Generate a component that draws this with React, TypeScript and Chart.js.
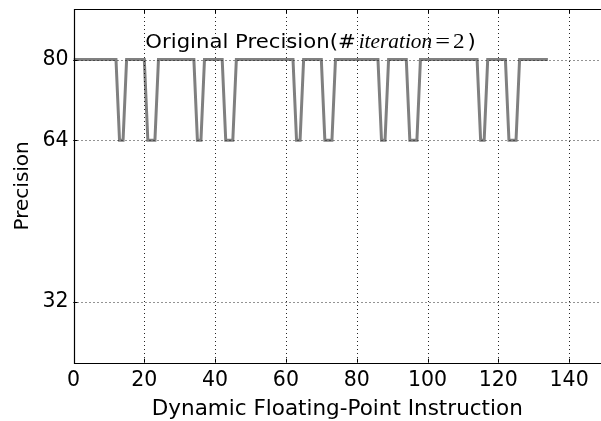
import React, { useEffect, useRef } from "react";
import { Chart, registerables } from "chart.js";

Chart.register(...registerables);

// ---- data ----
const instructionIndex = [
  0, 12, 13, 14, 15, 20, 21, 23, 24, 34, 35, 36, 37, 42, 43, 45, 46, 62, 63, 64, 65,
  70, 71, 73, 74, 86, 87, 88, 89, 94, 95, 97, 98, 114, 115, 116, 117, 122, 123, 125, 126, 134,
];
const precisionBits = [
  80, 80, 64, 64, 80, 80, 64, 64, 80, 80, 64, 64, 80, 80, 64, 64, 80, 80, 64, 64, 80,
  80, 64, 64, 80, 80, 64, 64, 80, 80, 64, 64, 80, 80, 64, 64, 80, 80, 64, 64, 80, 80,
];
const xTicks = [0, 20, 40, 60, 80, 100, 120, 140];
const yTicks = [32, 64, 80];
const xLabel = "Dynamic Floating-Point Instruction";
const yLabel = "Precision";
const annotationParts = ["Original Precision(#", "iteration", "=", "2", ")"];
const annotationAt = { x: 20.3, y: 82.3 };

const SANS = '"DejaVu Sans"';
const SERIF = '"Liberation Serif"';

const framePlugin = {
  id: "frame",
  afterDatasetsDraw(chart: any) {
    const { ctx, chartArea } = chart;
    const { left, top, bottom } = chartArea;
    const right = chart.width + 10;
    const xs = chart.scales.x;
    const ys = chart.scales.y;
    const snap = (v: number) => Math.round(v) + 0.5;

    ctx.save();
    // dotted grid above the line
    ctx.strokeStyle = "rgba(0,0,0,0.85)";
    ctx.lineWidth = 1;
    ctx.setLineDash([1, 3]);
    xTicks.forEach((v) => {
      if (v === 0) return;
      const px = snap(xs.getPixelForValue(v));
      ctx.beginPath();
      ctx.moveTo(px, top);
      ctx.lineTo(px, bottom);
      ctx.stroke();
    });
    yTicks.forEach((v) => {
      const py = snap(ys.getPixelForValue(v));
      ctx.beginPath();
      ctx.moveTo(left, py);
      ctx.lineTo(right, py);
      ctx.stroke();
    });
    ctx.setLineDash([]);

    // spines
    ctx.strokeStyle = "#000";
    ctx.lineWidth = 1.2;
    ctx.beginPath();
    ctx.moveTo(right, snap(top));
    ctx.lineTo(snap(left), snap(top));
    ctx.lineTo(snap(left), snap(bottom));
    ctx.lineTo(right, snap(bottom));
    ctx.stroke();

    // inward ticks
    ctx.lineWidth = 1;
    ctx.beginPath();
    xTicks.forEach((v) => {
      const px = snap(xs.getPixelForValue(v));
      ctx.moveTo(px, bottom);
      ctx.lineTo(px, bottom - 4);
      ctx.moveTo(px, top);
      ctx.lineTo(px, top + 4);
    });
    yTicks.forEach((v) => {
      const py = snap(ys.getPixelForValue(v));
      ctx.moveTo(left, py);
      ctx.lineTo(left + 4, py);
    });
    ctx.stroke();

    // annotation text
    let tx = xs.getPixelForValue(annotationAt.x);
    const ty = ys.getPixelForValue(annotationAt.y);
    ctx.fillStyle = "#000";
    ctx.textBaseline = "alphabetic";
    ctx.textAlign = "left";
    const fonts = [
      `20px ${SANS}`,
      `italic 22px ${SERIF}`,
      `21px ${SERIF}`,
      `21px ${SERIF}`,
      `20px ${SANS}`,
    ];
    const stretch = [1.06, 0.97, 1.25, 1.1, 1.06];
    const gapsBefore = [0, 3, 3, 3, 3];
    annotationParts.forEach((t, i) => {
      ctx.font = fonts[i];
      tx += gapsBefore[i];
      ctx.save();
      ctx.translate(tx, ty);
      ctx.scale(stretch[i], 1);
      ctx.fillText(t, 0, 0);
      ctx.restore();
      tx += ctx.measureText(t).width * stretch[i];
    });
    ctx.restore();
  },
};

export default function App() {
  const ref = useRef<HTMLCanvasElement | null>(null);
  useEffect(() => {
    if (!ref.current) return;
    const chart = new Chart(ref.current, {
      type: "line",
      data: {
        datasets: [
          {
            data: instructionIndex.map((x, i) => ({ x, y: precisionBits[i] })),
            borderColor: "#808080",
            borderWidth: 3,
            pointRadius: 0,
            tension: 0,
            fill: false,
          },
        ],
      },
      options: {
        animation: false,
        responsive: false,
        devicePixelRatio: 1,
        layout: { padding: { top: 9, left: 0, right: 0, bottom: 0 } },
        plugins: { legend: { display: false }, tooltip: { enabled: false } },
        scales: {
          x: {
            type: "linear",
            min: 0,
            max: 149,
            afterBuildTicks: (s: any) => {
              s.ticks = xTicks.map((v) => ({ value: v }));
            },
            afterFit: (s: any) => {
              s.height = 58.3;
              s.paddingLeft = 0;
              s.paddingRight = 0;
            },
            grid: { display: false, drawTicks: false },
            border: { display: false },
            ticks: {
              font: { family: SANS, size: 20.5 },
              color: "#000",
              padding: 6,
              maxRotation: 0,
              autoSkip: false,
            },
            title: {
              display: true,
              text: xLabel,
              color: "#000",
              font: { family: SANS, size: 21.5, lineHeight: 1 },
              padding: { top: 0, bottom: 1 },
            },
          },
          y: {
            type: "linear",
            min: 20,
            max: 90,
            afterBuildTicks: (s: any) => {
              s.ticks = yTicks.map((v) => ({ value: v }));
            },
            afterFit: (s: any) => {
              s.width = 73.5;
              s.paddingTop = 0;
              s.paddingBottom = 0;
            },
            grid: { display: false, drawTicks: false },
            border: { display: false },
            ticks: {
              font: { family: SANS, size: 20.5 },
              color: "#000",
              padding: 5,
              autoSkip: false,
            },
            title: {
              display: true,
              text: yLabel,
              color: "#000",
              font: { family: SANS, size: 20, lineHeight: 1 },
              padding: { top: 13, bottom: 0 },
            },
          },
        },
      },
      plugins: [framePlugin],
    });
    return () => chart.destroy();
  }, []);

  return (
    <div style={{ position: "absolute", left: 0, top: 0, width: 601, height: 421, background: "#fff" }}>
      <canvas ref={ref} width={601} height={421} style={{ display: "block", width: 601, height: 421 }} />
    </div>
  );
}
